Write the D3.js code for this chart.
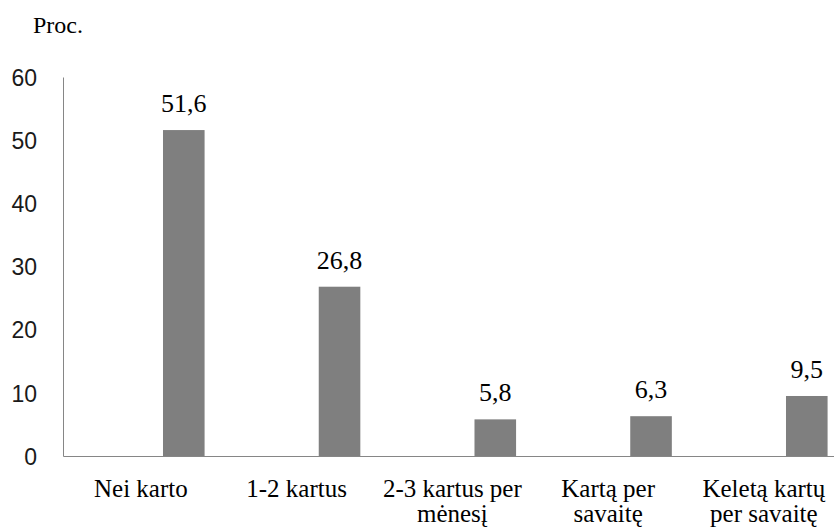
<!DOCTYPE html>
<html>
<head>
<meta charset="utf-8">
<script src="https://cdn.jsdelivr.net/npm/d3@7"></script>
<style>
  html, body { margin: 0; padding: 0; background: #fff; }
  svg { display: block; }
  .serif { font-family: "Liberation Serif", "DejaVu Serif", "Times New Roman", serif; }
  .sans { font-family: "Liberation Sans", Arial, sans-serif; }
</style>
</head>
<body>
<svg id="chart" width="834" height="529"></svg>
<script>
// ---- data ----
const categories = [
  ["Nei karto"],
  ["1-2 kartus"],
  ["2-3 kartus per", "mėnesį"],
  ["Kartą per", "savaitę"],
  ["Keletą kartų", "per savaitę"]
];
const values = [51.6, 26.8, 5.8, 6.3, 9.5];
const valueLabels = ["51,6", "26,8", "5,8", "6,3", "9,5"];
const yTicks = [0, 10, 20, 30, 40, 50, 60];
const yTitle = "Proc.";

// ---- layout ----
const svg = d3.select("#chart");
const plotLeft = 63, bandW = 155.75, plotTop = 77, plotBottom = 456;
const keys = categories.map((c, i) => i);

const x = d3.scaleBand().domain(keys).range([plotLeft, plotLeft + bandW * keys.length]).paddingInner(0).paddingOuter(0);
const y = d3.scaleLinear().domain([0, 60]).range([plotBottom, plotTop]);

// y-axis title
svg.append("text").attr("class", "serif").attr("x", 33).attr("y", 33)
  .attr("font-size", 24).attr("fill", "#000")
  .text(yTitle);

// y axis
const yAxis = d3.axisLeft(y).tickValues(yTicks).tickSize(0).tickPadding(26).tickFormat(d3.format("d"));
const gy = svg.append("g").attr("transform", `translate(${plotLeft},0)`).call(yAxis);
gy.attr("font-family", null).attr("font-size", null);
gy.select(".domain").attr("stroke", "#868686").attr("stroke-width", 1);
gy.selectAll("text").attr("class", "sans").attr("font-size", 23).attr("fill", "#1a1a1a")
  .attr("dy", "0.36em");

// bars
const barOff = bandW * 0.642, barW = bandW * 0.267;
svg.append("g").selectAll("rect").data(values).join("rect")
  .attr("x", (d, i) => x(i) + barOff)
  .attr("width", barW)
  .attr("y", d => y(d))
  .attr("height", d => y(0) - y(d))
  .attr("fill", "#7f7f7f");

// value labels
svg.append("g").selectAll("text").data(values).join("text")
  .attr("class", "serif")
  .attr("x", (d, i) => x(i) + barOff + barW / 2)
  .attr("y", d => y(d) - 18)
  .attr("text-anchor", "middle")
  .attr("font-size", 26).attr("fill", "#000")
  .text((d, i) => valueLabels[i]);

// x axis
const xAxis = d3.axisBottom(x).tickSize(0).tickFormat("");
const gx = svg.append("g").attr("transform", `translate(0,${plotBottom})`).call(xAxis);
gx.select(".domain").attr("stroke", "#868686").attr("stroke-width", 1);

// category labels (one text per line)
const lineData = [];
categories.forEach((lines, i) => lines.forEach((ln, j) => lineData.push({ i, j, ln })));
svg.append("g").selectAll("text").data(lineData).join("text")
  .attr("class", "serif")
  .attr("text-anchor", "middle")
  .attr("x", d => x(d.i) + bandW / 2)
  .attr("y", d => 497 + d.j * 25)
  .attr("font-size", 25).attr("fill", "#000")
  .text(d => d.ln);
</script>
</body>
</html>
